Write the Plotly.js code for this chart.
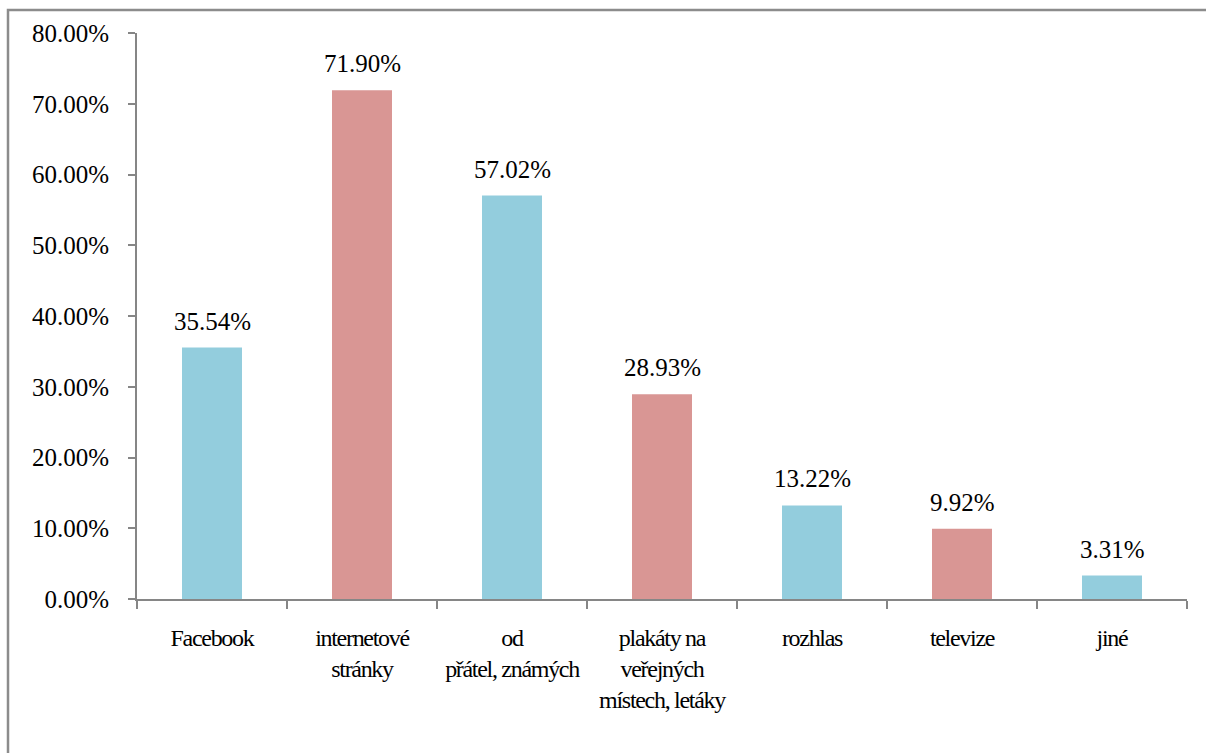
<!DOCTYPE html>
<html>
<head>
<meta charset="utf-8">
<script src="https://cdn.plot.ly/plotly-3.0.1.min.js"></script>
<style>
  html, body { margin: 0; padding: 0; background: #fff; }
  #chart { width: 1206px; height: 753px; }
  #chart .xtick text { letter-spacing: -1.3px; }
</style>
</head>
<body>
<div id="chart"></div>
<script>
const categories = [
  "Facebook",
  "internetové<br>stránky",
  "od<br>přátel, známých",
  "plakáty na<br>veřejných<br>místech, letáky",
  "rozhlas",
  "televize",
  "jiné"
];
const values = [0.3554, 0.7190, 0.5702, 0.2893, 0.1322, 0.0992, 0.0331];
const labels = ["35.54%", "71.90%", "57.02%", "28.93%", "13.22%", "9.92%", "3.31%"];
const yTicks = [0, 0.1, 0.2, 0.3, 0.4, 0.5, 0.6, 0.7, 0.8];

const blue = "#93CDDD";
const pink = "#D99694";
const colors = categories.map((c, i) => (i % 2 === 0 ? blue : pink));

const font = "Liberation Serif";

const trace = {
  type: "bar",
  x: categories,
  y: values,
  cliponaxis: false,
  marker: { color: colors, line: { width: 0 } },
  width: 0.4,
  hoverinfo: "none"
};

const annotations = categories.map((c, i) => ({
  x: c,
  y: values[i],
  xref: "x",
  yref: "y",
  text: labels[i],
  showarrow: false,
  yanchor: "bottom",
  yshift: 11,
  font: { family: font, size: 25, color: "#000" }
}));

const layout = {
  width: 1206,
  height: 753,
  margin: { l: 137, r: 19, t: 33, b: 154 },
  paper_bgcolor: "#fff",
  plot_bgcolor: "#fff",
  showlegend: false,
  font: { family: font, color: "#000", size: 24 },
  xaxis: {
    type: "category",
    showgrid: false,
    zeroline: false,
    showline: true,
    linecolor: "#868686",
    linewidth: 2,
    ticks: "outside",
    tickson: "boundaries",
    ticklen: 8,
    tickwidth: 2,
    tickcolor: "#868686",
    tickangle: 0,
    tickfont: { family: font, size: 24, color: "#000" },
    ticklabelstandoff: 16
  },
  yaxis: {
    range: [0, 0.8],
    tickvals: yTicks,
    tickformat: ".2%",
    showgrid: false,
    zeroline: false,
    showline: true,
    linecolor: "#868686",
    linewidth: 2,
    ticks: "outside",
    ticklen: 7,
    tickwidth: 2,
    tickcolor: "#868686",
    tickfont: { family: font, size: 25, color: "#000" },
    ticklabelstandoff: 14
  },
  annotations: annotations,
  shapes: [
    {
      type: "rect",
      xref: "paper", yref: "paper",
      x0: (8 - 137) / 1050, x1: (1215 - 137) / 1050,
      y0: (599 - 765) / 566, y1: (599 - 10) / 566,
      line: { color: "#8c8c8c", width: 2.5 },
      fillcolor: "rgba(0,0,0,0)",
      layer: "below"
    }
  ]
};

Plotly.newPlot("chart", [trace], layout, { staticPlot: true, displayModeBar: false });
</script>
</body>
</html>
